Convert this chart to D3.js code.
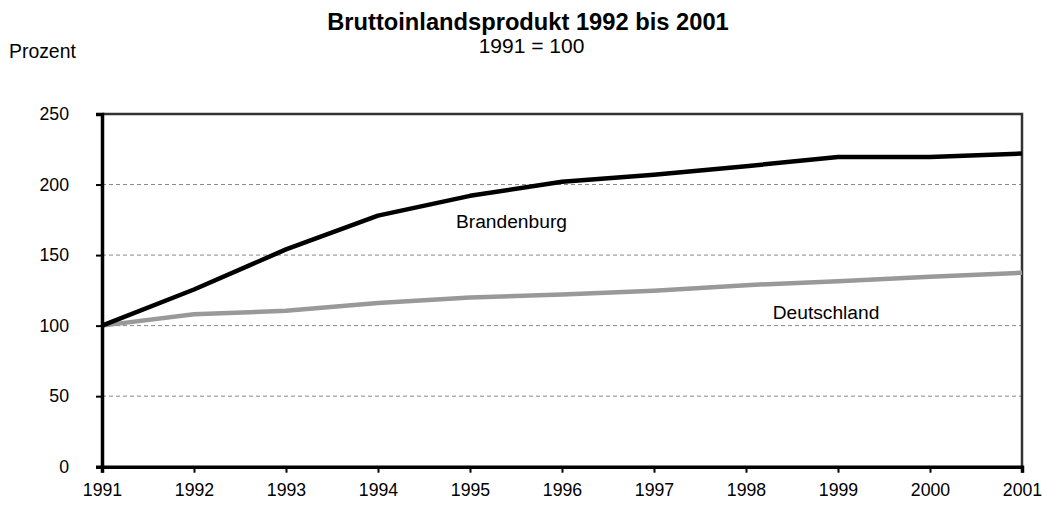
<!DOCTYPE html>
<html><head><meta charset="utf-8">
<script src="https://cdn.jsdelivr.net/npm/d3@7"></script>
<style>body{margin:0;background:#fff}svg{display:block}text{font-family:"Liberation Sans",Arial,sans-serif;fill:#000}</style>
</head><body><svg id="c" width="1049" height="505"></svg>
<script>
const years = [1991,1992,1993,1994,1995,1996,1997,1998,1999,2000,2001];
const brandenburg = [100,125.6,154,178,192,202,207,213,219.5,219.5,222];
const deutschland = [100,108,110.5,116,120,122,124.7,128.7,131.5,134.6,137.4];
const yTicks = [0,50,100,150,200,250];
const title = "Bruttoinlandsprodukt 1992 bis 2001";
const subtitle = "1991 = 100";
const yLabel = "Prozent";

const svg = d3.select("#c");
const x = d3.scaleLinear().domain([1991,2001]).range([102,1022]);
const y = d3.scaleLinear().domain([0,250]).range([466.7,114]);

// gridlines
svg.append("g").selectAll("line").data(yTicks.filter(v=>v>0 && v<250)).join("line")
  .attr("x1",x(1991)).attr("x2",x(2001)).attr("y1",d=>y(d)).attr("y2",d=>y(d))
  .attr("stroke","#888").attr("stroke-width",1).attr("stroke-dasharray","4,3");

// border top/right
svg.append("path").attr("d",`M${x(1991)},${y(250)}H${x(2001)}V${y(0)}`)
  .attr("fill","none").attr("stroke","#333").attr("stroke-width",2.5);

const line = d3.line().x((d,i)=>x(years[i])).y(d=>y(d));
svg.append("path").datum(deutschland).attr("d",line).attr("fill","none")
  .attr("stroke","#999").attr("stroke-width",4.5).attr("stroke-linejoin","round");
svg.append("path").datum(brandenburg).attr("d",line).attr("fill","none")
  .attr("stroke","#000").attr("stroke-width",4.5).attr("stroke-linejoin","round");

// axes
const xAxis = svg.append("g").attr("transform",`translate(0,${y(0)})`)
  .call(d3.axisBottom(x).tickValues(years).tickFormat(d3.format("d")).tickSize(6).tickPadding(11));
xAxis.select(".domain").attr("stroke","#000").attr("stroke-width",3.5);
xAxis.selectAll(".tick line").attr("stroke","#000").attr("stroke-width",2);
xAxis.selectAll("text").style("font-size","17.7px").attr("fill","#000");

const yAxis = svg.append("g").attr("transform",`translate(${x(1991)},0)`)
  .call(d3.axisLeft(y).tickValues(yTicks).tickSize(6).tickPadding(27));
yAxis.select(".domain").attr("stroke","#000").attr("stroke-width",3.5);
yAxis.selectAll(".tick line").attr("stroke","#000").attr("stroke-width",2);
yAxis.selectAll("text").style("font-size","17.7px").attr("fill","#000");

// titles
svg.append("text").attr("x",528).attr("y",30).attr("text-anchor","middle")
  .style("font-size","23.7px").style("font-weight","bold").text(title);
svg.append("text").attr("x",531.5).attr("y",53.3).attr("text-anchor","middle")
  .style("font-size","21px").text(subtitle);
svg.append("text").attr("x",9).attr("y",58.3).style("font-size","19.4px").text(yLabel);

// series labels
svg.append("text").attr("x",456).attr("y",227.7).style("font-size","19.2px").text("Brandenburg");
svg.append("text").attr("x",772.7).attr("y",319).style("font-size","19.2px").text("Deutschland");
</script></body></html>
